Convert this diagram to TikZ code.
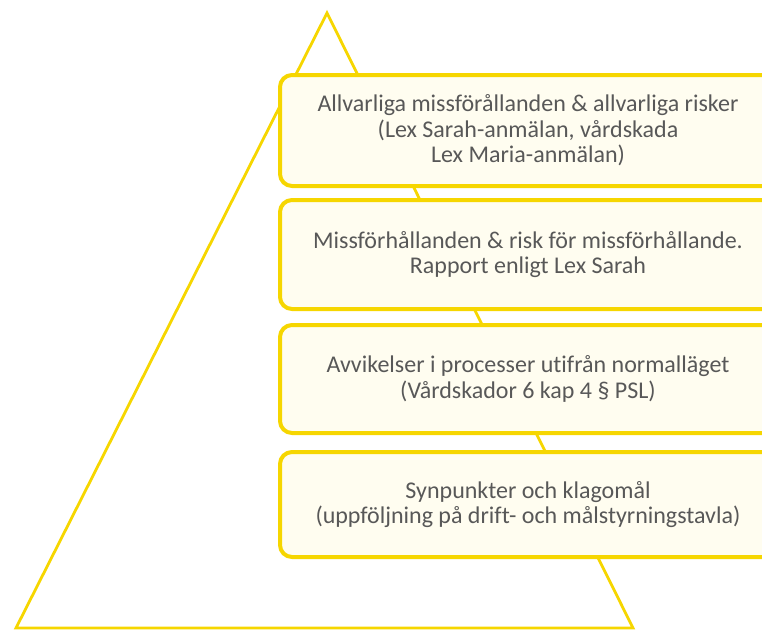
\documentclass[tikz,border=0pt]{standalone}
\usepackage{fontspec}
\setmainfont[Ligatures=NoCommon]{Carlito}
\usetikzlibrary{positioning}
\usepackage{xcolor}
\definecolor{pyryellow}{RGB}{246,214,0}
\definecolor{pyrcream}{RGB}{255,253,240}
\definecolor{pyrtext}{RGB}{88,88,88}

\begin{document}
\begin{tikzpicture}[x=1pt, y=-1pt,
  level/.style={draw=pyryellow, line width=4pt, rounded corners=12pt, fill=pyrcream, anchor=north west,
    minimum width=496pt, align=center, text=pyrtext, font=\fontsize{24}{25.5}\selectfont},
  pyr/.style={draw=pyryellow, line width=2.8pt, line join=miter}
]
\useasboundingbox (0,0) rectangle (762,632);
% triangle behind the levels
\draw[pyr] (327,13) -- (633,628) -- (16,628) -- cycle;
\node[level, minimum height=111pt] (allvarliga) at (278,73) {Allvarliga missförållanden \& allvarliga risker\\(Lex Sarah-anmälan, vårdskada\\Lex Maria-anmälan)};
\node[level, minimum height=109pt] (missforhallanden) at (278,198) {Missförhållanden \& risk för missförhållande.\\Rapport enligt Lex Sarah};
\node[level, minimum height=108pt] (avvikelser) at (278,323) {Avvikelser i processer utifrån normalläget\\(Vårdskador 6 kap 4 § PSL)};
\node[level, minimum height=105pt] (synpunkter) at (278,450) {Synpunkter och klagomål\\(uppföljning på drift- och målstyrningstavla)};
\end{tikzpicture}
\end{document}
